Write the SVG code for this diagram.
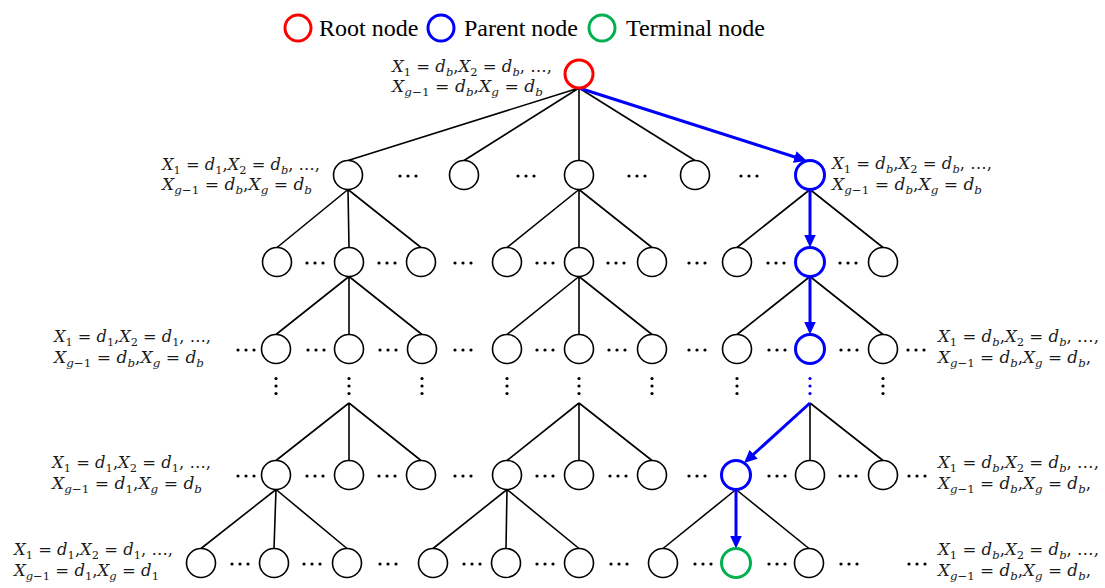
<svg xmlns="http://www.w3.org/2000/svg" xmlns:xlink="http://www.w3.org/1999/xlink" width="1105" height="588" viewBox="0 0 1105 588">
  <style>
    .node { fill: #ffffff; stroke: #000000; stroke-width: 1.6; }
    .root { fill: #ffffff; stroke: #ff0000; stroke-width: 3; }
    .parent { fill: #ffffff; stroke: #0000ff; stroke-width: 3; }
    .term { fill: #ffffff; stroke: #00b050; stroke-width: 3; }
    .edge { stroke: #000000; stroke-width: 1.6; fill: none; }
    .path { stroke: #0000ff; stroke-width: 3; fill: none; marker-end: url(#arrow); }
    .dots { fill: #000000; }
    .bdots { fill: #0000ff; }
    .legend { font-family: "Liberation Serif", "Times New Roman", serif; font-size: 24px; fill: #000000; }
    .m { font-family: "DejaVu Serif", "Liberation Serif", serif; font-size: 16.5px; fill: #1a1a1a; }
    .i { font-style: italic; }
    .s { font-size: 11.5px; baseline-shift: -4px; }
  </style>
  <defs>
    <marker id="arrow" markerUnits="userSpaceOnUse" viewBox="0 0 13 12" refX="1" refY="6" markerWidth="13" markerHeight="12" orient="auto">
      <path d="M0,0 L13,6 L0,12 z" fill="#0000ff"/>
    </marker>
    <g id="hd"><circle cx="-8" cy="0" r="1.6"/><circle cx="0" cy="0" r="1.6"/><circle cx="8" cy="0" r="1.6"/></g>
    <g id="vd"><circle cx="0" cy="-7.5" r="1.6"/><circle cx="0" cy="0" r="1.6"/><circle cx="0" cy="7.5" r="1.6"/></g>
  </defs>

  <!-- legend -->
  <g id="legend">
    <circle class="root" cx="298" cy="28" r="13"/>
    <text class="legend" x="319" y="36">Root node</text>
    <circle class="parent" cx="441" cy="28" r="13"/>
    <text class="legend" x="464" y="36">Parent node</text>
    <circle class="term" cx="602" cy="28" r="13"/>
    <text class="legend" x="626" y="36">Terminal node</text>
  </g>

  <!-- connectors -->
  <g id="edges">
    <!-- root to level 1 -->
    <path class="edge" d="M579,88 L348,160.5 M579,88 L464,160.5 M579,88 L579,160.5 M579,88 L695,160.5"/>
    <!-- level 1 to level 2 -->
    <path class="edge" d="M348,189.5 L277,247.5 M348,189.5 L349,247.5 M348,189.5 L421,247.5"/>
    <path class="edge" d="M579,189.5 L507,247.5 M579,189.5 L579,247.5 M579,189.5 L652,247.5"/>
    <path class="edge" d="M810,189.5 L737,247.5 M810,189.5 L883,247.5"/>
    <!-- level 2 to level 3 -->
    <path class="edge" d="M349,276.5 L276,334.5 M349,276.5 L349,334.5 M349,276.5 L422,334.5"/>
    <path class="edge" d="M579,276.5 L507,334.5 M579,276.5 L579,334.5 M579,276.5 L652,334.5"/>
    <path class="edge" d="M810,276.5 L737,334.5 M810,276.5 L883,334.5"/>
    <!-- elided levels to level 4 -->
    <path class="edge" d="M349,403 L276,460.5 M349,403 L349,460.5 M349,403 L421,460.5"/>
    <path class="edge" d="M579,403 L507,460.5 M579,403 L579,460.5 M579,403 L652,460.5"/>
    <path class="edge" d="M810,403 L810,460.5 M810,403 L883,460.5"/>
    <!-- level 4 to level 5 -->
    <path class="edge" d="M276,489.5 L201,548.5 M276,489.5 L274,548.5 M276,489.5 L347,548.5"/>
    <path class="edge" d="M507,489.5 L433,548.5 M507,489.5 L506,548.5 M507,489.5 L579,548.5"/>
    <path class="edge" d="M736,489.5 L663,548.5 M736,489.5 L809,548.5"/>
    <!-- highlighted search path -->
    <path class="path" d="M579,88 L795.6,157.3"/>
    <path class="path" d="M810,189.5 L810,235.5"/>
    <path class="path" d="M810,276.5 L810,322.5"/>
    <path class="path" d="M810,403 L752.9,454.9"/>
    <path class="path" d="M736,489.5 L736,536.5"/>
  </g>

  <!-- nodes -->
  <g id="n-root"><circle class="root" cx="579" cy="74" r="14"/></g>
  <g id="n1-1"><circle class="node" cx="348" cy="175" r="14.5"/></g>
  <g id="n1-2"><circle class="node" cx="464" cy="175" r="14.5"/></g>
  <g id="n1-3"><circle class="node" cx="579" cy="175" r="14.5"/></g>
  <g id="n1-4"><circle class="node" cx="695" cy="175" r="14.5"/></g>
  <g id="n1-5"><circle class="parent" cx="810" cy="175" r="14.5"/></g>

  <g id="n2-1"><circle class="node" cx="277" cy="262" r="14.5"/></g>
  <g id="n2-2"><circle class="node" cx="349" cy="262" r="14.5"/></g>
  <g id="n2-3"><circle class="node" cx="421" cy="262" r="14.5"/></g>
  <g id="n2-4"><circle class="node" cx="507" cy="262" r="14.5"/></g>
  <g id="n2-5"><circle class="node" cx="579" cy="262" r="14.5"/></g>
  <g id="n2-6"><circle class="node" cx="652" cy="262" r="14.5"/></g>
  <g id="n2-7"><circle class="node" cx="737" cy="262" r="14.5"/></g>
  <g id="n2-8"><circle class="parent" cx="810" cy="262" r="14.5"/></g>
  <g id="n2-9"><circle class="node" cx="883" cy="262" r="14.5"/></g>

  <g id="n3-1"><circle class="node" cx="276" cy="349" r="14.5"/></g>
  <g id="n3-2"><circle class="node" cx="349" cy="349" r="14.5"/></g>
  <g id="n3-3"><circle class="node" cx="422" cy="349" r="14.5"/></g>
  <g id="n3-4"><circle class="node" cx="507" cy="349" r="14.5"/></g>
  <g id="n3-5"><circle class="node" cx="579" cy="349" r="14.5"/></g>
  <g id="n3-6"><circle class="node" cx="652" cy="349" r="14.5"/></g>
  <g id="n3-7"><circle class="node" cx="737" cy="349" r="14.5"/></g>
  <g id="n3-8"><circle class="parent" cx="810" cy="349" r="14.5"/></g>
  <g id="n3-9"><circle class="node" cx="883" cy="349" r="14.5"/></g>

  <g id="n4-1"><circle class="node" cx="276" cy="475" r="14.5"/></g>
  <g id="n4-2"><circle class="node" cx="349" cy="475" r="14.5"/></g>
  <g id="n4-3"><circle class="node" cx="421" cy="475" r="14.5"/></g>
  <g id="n4-4"><circle class="node" cx="507" cy="475" r="14.5"/></g>
  <g id="n4-5"><circle class="node" cx="579" cy="475" r="14.5"/></g>
  <g id="n4-6"><circle class="node" cx="652" cy="475" r="14.5"/></g>
  <g id="n4-7"><circle class="parent" cx="736" cy="475" r="14.5"/></g>
  <g id="n4-8"><circle class="node" cx="810" cy="475" r="14.5"/></g>
  <g id="n4-9"><circle class="node" cx="883" cy="475" r="14.5"/></g>

  <g id="n5-1"><circle class="node" cx="201" cy="563" r="14.5"/></g>
  <g id="n5-2"><circle class="node" cx="274" cy="563" r="14.5"/></g>
  <g id="n5-3"><circle class="node" cx="347" cy="563" r="14.5"/></g>
  <g id="n5-4"><circle class="node" cx="433" cy="563" r="14.5"/></g>
  <g id="n5-5"><circle class="node" cx="506" cy="563" r="14.5"/></g>
  <g id="n5-6"><circle class="node" cx="579" cy="563" r="14.5"/></g>
  <g id="n5-7"><circle class="node" cx="663" cy="563" r="14.5"/></g>
  <g id="n5-8"><circle class="term" cx="736" cy="563" r="14.5"/></g>
  <g id="n5-9"><circle class="node" cx="809" cy="563" r="14.5"/></g>

  <!-- elision marks between siblings and between levels -->
  <g id="ellipses" class="dots">
    <use xlink:href="#hd" x="408" y="176"/><use xlink:href="#hd" x="526" y="176"/><use xlink:href="#hd" x="637" y="176"/><use xlink:href="#hd" x="749" y="176"/>
    <use xlink:href="#hd" x="315" y="263"/><use xlink:href="#hd" x="387" y="263"/><use xlink:href="#hd" x="463" y="263"/><use xlink:href="#hd" x="545" y="263"/><use xlink:href="#hd" x="616" y="263"/><use xlink:href="#hd" x="697" y="263"/><use xlink:href="#hd" x="776" y="263"/><use xlink:href="#hd" x="848" y="263"/>
    <use xlink:href="#hd" x="246" y="350"/><use xlink:href="#hd" x="316" y="350"/><use xlink:href="#hd" x="388" y="350"/><use xlink:href="#hd" x="463" y="350"/><use xlink:href="#hd" x="545" y="350"/><use xlink:href="#hd" x="617" y="350"/><use xlink:href="#hd" x="697" y="350"/><use xlink:href="#hd" x="777" y="350"/><use xlink:href="#hd" x="849" y="350"/><use xlink:href="#hd" x="916" y="350"/>
    <use xlink:href="#hd" x="246" y="476"/><use xlink:href="#hd" x="315" y="476"/><use xlink:href="#hd" x="387" y="476"/><use xlink:href="#hd" x="463" y="476"/><use xlink:href="#hd" x="545" y="476"/><use xlink:href="#hd" x="618" y="476"/><use xlink:href="#hd" x="697" y="476"/><use xlink:href="#hd" x="777" y="476"/><use xlink:href="#hd" x="848" y="476"/><use xlink:href="#hd" x="917" y="476"/>
    <use xlink:href="#hd" x="240" y="564"/><use xlink:href="#hd" x="312" y="564"/><use xlink:href="#hd" x="388" y="564"/><use xlink:href="#hd" x="472" y="564"/><use xlink:href="#hd" x="545" y="564"/><use xlink:href="#hd" x="619" y="564"/><use xlink:href="#hd" x="703" y="564"/><use xlink:href="#hd" x="777" y="564"/><use xlink:href="#hd" x="849" y="564"/><use xlink:href="#hd" x="917" y="564"/>
    <use xlink:href="#vd" x="276" y="386"/><use xlink:href="#vd" x="349" y="386"/><use xlink:href="#vd" x="422" y="386"/><use xlink:href="#vd" x="507" y="386"/><use xlink:href="#vd" x="579" y="386"/><use xlink:href="#vd" x="652" y="386"/><use xlink:href="#vd" x="737" y="386"/><use xlink:href="#vd" x="883" y="386"/>
    <use xlink:href="#vd" x="810" y="386" class="bdots"/>
  </g>

  <!-- state labels -->
  <g id="lbl-root">
    <text class="m" x="392" y="72" textLength="160" lengthAdjust="spacingAndGlyphs"><tspan class="i">X</tspan><tspan class="s">1</tspan> = <tspan class="i">d</tspan><tspan class="s i">b</tspan>,<tspan class="i">X</tspan><tspan class="s">2</tspan> = <tspan class="i">d</tspan><tspan class="s i">b</tspan>, …,</text>
    <text class="m" x="392" y="92" textLength="151" lengthAdjust="spacingAndGlyphs"><tspan class="i">X</tspan><tspan class="s i">g</tspan><tspan class="s">−1</tspan> = <tspan class="i">d</tspan><tspan class="s i">b</tspan>,<tspan class="i">X</tspan><tspan class="s i">g</tspan> = <tspan class="i">d</tspan><tspan class="s i">b</tspan></text>
  </g>
  <g id="lbl-1L">
    <text class="m" x="162" y="170" textLength="158" lengthAdjust="spacingAndGlyphs"><tspan class="i">X</tspan><tspan class="s">1</tspan> = <tspan class="i">d</tspan><tspan class="s">1</tspan>,<tspan class="i">X</tspan><tspan class="s">2</tspan> = <tspan class="i">d</tspan><tspan class="s i">b</tspan>, …,</text>
    <text class="m" x="162" y="190" textLength="150" lengthAdjust="spacingAndGlyphs"><tspan class="i">X</tspan><tspan class="s i">g</tspan><tspan class="s">−1</tspan> = <tspan class="i">d</tspan><tspan class="s i">b</tspan>,<tspan class="i">X</tspan><tspan class="s i">g</tspan> = <tspan class="i">d</tspan><tspan class="s i">b</tspan></text>
  </g>
  <g id="lbl-1R">
    <text class="m" x="832" y="169" textLength="160" lengthAdjust="spacingAndGlyphs"><tspan class="i">X</tspan><tspan class="s">1</tspan> = <tspan class="i">d</tspan><tspan class="s i">b</tspan>,<tspan class="i">X</tspan><tspan class="s">2</tspan> = <tspan class="i">d</tspan><tspan class="s i">b</tspan>, …,</text>
    <text class="m" x="832" y="190" textLength="150" lengthAdjust="spacingAndGlyphs"><tspan class="i">X</tspan><tspan class="s i">g</tspan><tspan class="s">−1</tspan> = <tspan class="i">d</tspan><tspan class="s i">b</tspan>,<tspan class="i">X</tspan><tspan class="s i">g</tspan> = <tspan class="i">d</tspan><tspan class="s i">b</tspan></text>
  </g>
  <g id="lbl-3L">
    <text class="m" x="54" y="342" textLength="157" lengthAdjust="spacingAndGlyphs"><tspan class="i">X</tspan><tspan class="s">1</tspan> = <tspan class="i">d</tspan><tspan class="s">1</tspan>,<tspan class="i">X</tspan><tspan class="s">2</tspan> = <tspan class="i">d</tspan><tspan class="s">1</tspan>, …,</text>
    <text class="m" x="54" y="363" textLength="150" lengthAdjust="spacingAndGlyphs"><tspan class="i">X</tspan><tspan class="s i">g</tspan><tspan class="s">−1</tspan> = <tspan class="i">d</tspan><tspan class="s i">b</tspan>,<tspan class="i">X</tspan><tspan class="s i">g</tspan> = <tspan class="i">d</tspan><tspan class="s i">b</tspan></text>
  </g>
  <g id="lbl-3R">
    <text class="m" x="938" y="342" textLength="161" lengthAdjust="spacingAndGlyphs"><tspan class="i">X</tspan><tspan class="s">1</tspan> = <tspan class="i">d</tspan><tspan class="s i">b</tspan>,<tspan class="i">X</tspan><tspan class="s">2</tspan> = <tspan class="i">d</tspan><tspan class="s i">b</tspan>, …,</text>
    <text class="m" x="938" y="363" textLength="153" lengthAdjust="spacingAndGlyphs"><tspan class="i">X</tspan><tspan class="s i">g</tspan><tspan class="s">−1</tspan> = <tspan class="i">d</tspan><tspan class="s i">b</tspan>,<tspan class="i">X</tspan><tspan class="s i">g</tspan> = <tspan class="i">d</tspan><tspan class="s i">b</tspan>,</text>
  </g>
  <g id="lbl-4L">
    <text class="m" x="52" y="468" textLength="159" lengthAdjust="spacingAndGlyphs"><tspan class="i">X</tspan><tspan class="s">1</tspan> = <tspan class="i">d</tspan><tspan class="s">1</tspan>,<tspan class="i">X</tspan><tspan class="s">2</tspan> = <tspan class="i">d</tspan><tspan class="s">1</tspan>, …,</text>
    <text class="m" x="52" y="489" textLength="150" lengthAdjust="spacingAndGlyphs"><tspan class="i">X</tspan><tspan class="s i">g</tspan><tspan class="s">−1</tspan> = <tspan class="i">d</tspan><tspan class="s">1</tspan>,<tspan class="i">X</tspan><tspan class="s i">g</tspan> = <tspan class="i">d</tspan><tspan class="s i">b</tspan></text>
  </g>
  <g id="lbl-4R">
    <text class="m" x="938" y="468" textLength="161" lengthAdjust="spacingAndGlyphs"><tspan class="i">X</tspan><tspan class="s">1</tspan> = <tspan class="i">d</tspan><tspan class="s i">b</tspan>,<tspan class="i">X</tspan><tspan class="s">2</tspan> = <tspan class="i">d</tspan><tspan class="s i">b</tspan>, …,</text>
    <text class="m" x="938" y="489" textLength="153" lengthAdjust="spacingAndGlyphs"><tspan class="i">X</tspan><tspan class="s i">g</tspan><tspan class="s">−1</tspan> = <tspan class="i">d</tspan><tspan class="s i">b</tspan>,<tspan class="i">X</tspan><tspan class="s i">g</tspan> = <tspan class="i">d</tspan><tspan class="s i">b</tspan>,</text>
  </g>
  <g id="lbl-5L">
    <text class="m" x="14" y="555" textLength="159" lengthAdjust="spacingAndGlyphs"><tspan class="i">X</tspan><tspan class="s">1</tspan> = <tspan class="i">d</tspan><tspan class="s">1</tspan>,<tspan class="i">X</tspan><tspan class="s">2</tspan> = <tspan class="i">d</tspan><tspan class="s">1</tspan>, …,</text>
    <text class="m" x="14" y="576" textLength="145" lengthAdjust="spacingAndGlyphs"><tspan class="i">X</tspan><tspan class="s i">g</tspan><tspan class="s">−1</tspan> = <tspan class="i">d</tspan><tspan class="s">1</tspan>,<tspan class="i">X</tspan><tspan class="s i">g</tspan> = <tspan class="i">d</tspan><tspan class="s">1</tspan></text>
  </g>
  <g id="lbl-5R">
    <text class="m" x="938" y="555" textLength="161" lengthAdjust="spacingAndGlyphs"><tspan class="i">X</tspan><tspan class="s">1</tspan> = <tspan class="i">d</tspan><tspan class="s i">b</tspan>,<tspan class="i">X</tspan><tspan class="s">2</tspan> = <tspan class="i">d</tspan><tspan class="s i">b</tspan>, …,</text>
    <text class="m" x="938" y="576" textLength="153" lengthAdjust="spacingAndGlyphs"><tspan class="i">X</tspan><tspan class="s i">g</tspan><tspan class="s">−1</tspan> = <tspan class="i">d</tspan><tspan class="s i">b</tspan>,<tspan class="i">X</tspan><tspan class="s i">g</tspan> = <tspan class="i">d</tspan><tspan class="s i">b</tspan>,</text>
  </g>
</svg>
